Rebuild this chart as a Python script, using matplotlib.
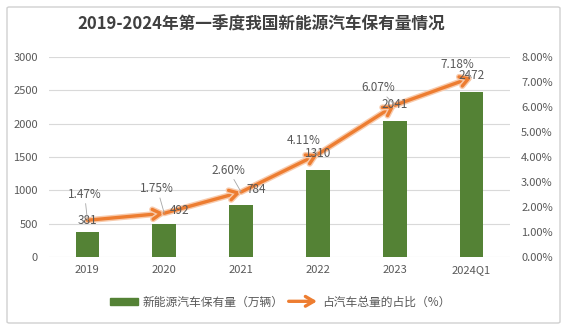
import matplotlib
matplotlib.use("Agg")
import matplotlib.pyplot as plt
from matplotlib.patches import Patch, FancyArrowPatch, FancyBboxPatch
from matplotlib.legend_handler import HandlerBase
import matplotlib.patheffects as pe

plt.rcParams['font.family'] = ['Noto Sans CJK SC', 'DejaVu Sans']

categories = ['2019', '2020', '2021', '2022', '2023', '2024Q1']
stock = [381, 492, 784, 1310, 2041, 2472]          # 万辆
share = [1.47, 1.75, 2.60, 4.11, 6.07, 7.18]       # %
left_ticks = [0, 500, 1000, 1500, 2000, 2500, 3000]
right_ticks = [0, 1, 2, 3, 4, 5, 6, 7, 8]

title = '2019-2024年第一季度我国新能源汽车保有量情况'
bar_name = '新能源汽车保有量（万辆）'
line_name = '占汽车总量的占比（%）'

GREEN = '#548235'
ORANGE = '#ED7D31'
TXT = '#595959'
GRID = '#D9D9D9'

fig = plt.figure(figsize=(5.67, 3.29), dpi=100)
fig.patch.set_facecolor('white')

# outer frame
frame = FancyBboxPatch((7 / 567, 6 / 329), 553 / 567, 316 / 329,
                       boxstyle='round,pad=0,rounding_size=0.004',
                       transform=fig.transFigure, fill=False,
                       edgecolor='#D0D0D0', linewidth=1.0)
fig.patches.append(frame)

ax = fig.add_axes([49 / 567, 1 - 257 / 329, 461 / 567, 200 / 329])
x = list(range(len(categories)))
ax.bar(x, stock, width=0.31, color=GREEN, zorder=2)
ax.set_xlim(-0.5, len(categories) - 0.5)
ax.set_ylim(0, 3000)
ax.set_yticks(left_ticks)
ax.set_xticks(x)
ax.set_xticklabels(categories)
ax.grid(axis='y', color=GRID, linewidth=0.8, zorder=0)
for s in ax.spines.values():
    s.set_visible(False)
ax.tick_params(axis='both', length=0, labelsize=8, labelcolor=TXT)
ax.tick_params(axis='y', pad=8)
ax.tick_params(axis='x', pad=6)

ax2 = ax.twinx()
ax2.set_ylim(0, 8)
ax2.set_yticks(right_ticks)
ax2.set_yticklabels([f'{v:.2f}%' for v in right_ticks])
for s in ax2.spines.values():
    s.set_visible(False)
ax2.tick_params(axis='y', length=0, labelsize=8, labelcolor=TXT, pad=8)

# share line: one arrow per segment
glow = [pe.Stroke(linewidth=4.4, foreground='#F8CBAD'), pe.Normal()]
for i in range(len(x) - 1):
    arr = FancyArrowPatch((x[i], share[i]), (x[i + 1], share[i + 1]),
                          arrowstyle='->,head_length=6,head_width=3.5',
                          color=ORANGE, linewidth=2.4, shrinkA=0, shrinkB=0,
                          mutation_scale=1, zorder=4)
    arr.set_path_effects(glow)
    ax2.add_patch(arr)

# bar value labels (drawn above the line)
bar_offsets = [(0, 3), (4, 5), (4, 6), (0, 7), (0, 7), (0, 7)]
for xi, v, (dx, dy) in zip(x, stock, bar_offsets):
    ax2.annotate(f'{v}', (xi, v), xycoords=ax.transData,
                 xytext=(dx, dy), textcoords='offset points',
                 ha='left' if dx > 2 else 'center', va='bottom',
                 fontsize=8.5, color=TXT, zorder=5)

# share labels with leader lines
share_offsets = [(-2, 14), (-5, 13), (-9, 11), (-10, 5), (-12, 8), (-10, 5)]
for xi, v, (dx, dy) in zip(x, share, share_offsets):
    ax2.annotate(f'{v:.2f}%', (xi, v), xytext=(dx, dy), textcoords='offset points',
                 ha='center', va='bottom', fontsize=8.5, color=TXT, zorder=6,
                 arrowprops=dict(arrowstyle='-', color='#A6A6A6', linewidth=0.6,
                                 shrinkA=0, shrinkB=0))

fig.text(261 / 567, 1 - 25 / 329, title, ha='center', va='center',
         fontsize=12, fontweight='bold', color='#404040')


class ArrowHandler(HandlerBase):
    def create_artists(self, legend, orig_handle, xdescent, ydescent,
                       width, height, fontsize, trans):
        y = height / 2 - ydescent
        a = FancyArrowPatch((-xdescent, y), (-xdescent + width, y),
                            arrowstyle='->,head_length=6,head_width=3.5',
                            color=ORANGE, linewidth=2.4, mutation_scale=1,
                            shrinkA=0, shrinkB=0, transform=trans)
        return [a]


arrow_handle = Patch(color=ORANGE)
leg = fig.legend([Patch(color=GREEN), arrow_handle], [bar_name, line_name],
                 loc='center', bbox_to_anchor=(280 / 567, 1 - 302 / 329),
                 ncol=2, frameon=False, fontsize=8.5, handlelength=2.4,
                 handleheight=0.5, columnspacing=0.4, handletextpad=0.4,
                 handler_map={arrow_handle: ArrowHandler()})
for t in leg.get_texts():
    t.set_color(TXT)

fig.savefig('out.png', dpi=100)
